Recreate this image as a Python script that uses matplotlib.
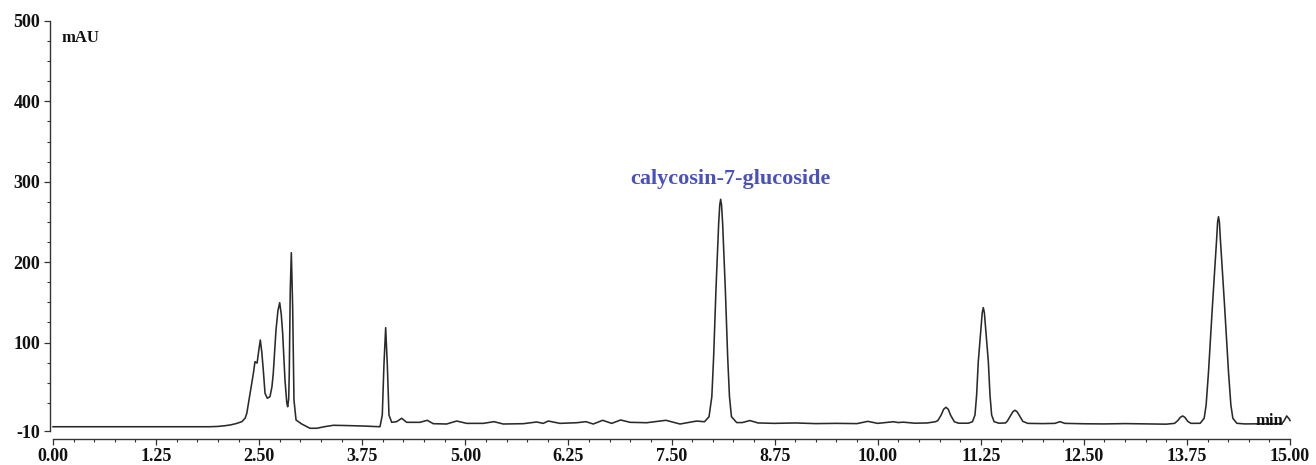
import matplotlib
matplotlib.use("Agg")
import matplotlib.pyplot as plt
from matplotlib.ticker import FixedLocator, MultipleLocator, FormatStrFormatter

# ---- data ----
time_min = [
    0.00, 1.90, 2.00, 2.08, 2.15, 2.22, 2.29, 2.33, 2.35, 2.39, 2.43, 2.449, 2.475, 2.495,
    2.514, 2.532, 2.550, 2.571, 2.599, 2.631, 2.655, 2.671, 2.704, 2.728, 2.749, 2.768,
    2.785, 2.813, 2.835, 2.846, 2.858, 2.865, 2.877, 2.890, 2.906, 2.922, 2.947, 3.016,
    3.116, 3.197, 3.30, 3.40, 3.55, 3.76, 3.965, 3.993, 4.013, 4.034, 4.054, 4.074,
    4.107, 4.167, 4.228, 4.289, 4.45, 4.538, 4.611, 4.773, 4.895, 5.016, 5.218, 5.347,
    5.46, 5.703, 5.865, 5.945, 6.006, 6.147, 6.35, 6.463, 6.551, 6.665, 6.774, 6.884,
    6.996, 7.199, 7.433, 7.603, 7.805, 7.90, 7.955, 7.989, 8.011, 8.039, 8.072, 8.085,
    8.096, 8.107, 8.120, 8.153, 8.181, 8.203, 8.227, 8.29, 8.36, 8.45, 8.55, 8.75,
    9.00, 9.25, 9.50, 9.75, 9.88, 10.00, 10.19, 10.25, 10.31, 10.45, 10.60, 10.70,
    10.73, 10.77, 10.80, 10.828, 10.856, 10.883, 10.93, 10.98, 11.10, 11.15, 11.18, 11.20,
    11.22, 11.253, 11.268, 11.281, 11.294, 11.309, 11.342, 11.362, 11.382, 11.412, 11.47, 11.55,
    11.57, 11.61, 11.64, 11.665, 11.69, 11.72, 11.76, 11.82, 12.00, 12.15, 12.21, 12.27,
    12.50, 12.75, 13.00, 13.25, 13.50, 13.60, 13.64, 13.67, 13.698, 13.725, 13.76, 13.80,
    13.88, 13.911, 13.959, 13.983, 14.012, 14.060, 14.111, 14.122, 14.133, 14.144, 14.155, 14.206,
    14.254, 14.283, 14.307, 14.355, 14.45, 14.70, 14.90, 14.93, 14.96, 14.99, 15.00,
]
absorbance_mau = [
    -4.7, -4.7, -4.3, -3.5, -2.5, -0.8, 1.6, 6.0, 12.0, 36.9, 61.8, 76.2, 74.5, 90.0,
    103.2, 88.0, 65.9, 36.9, 30.7, 32.7, 45.0, 61.8, 115.6, 140.0, 149.6, 135.0,
    111.5, 53.4, 25.0, 20.2, 30.0, 61.8, 165.4, 211.8, 144.6, 28.6, 3.7, -1.3,
    -6.6, -6.6, -4.5, -2.9, -3.2, -3.8, -4.7, 9.9, 72.1, 118.5, 72.1, 9.9,
    0.8, 1.6, 5.8, 0.8, 0.8, 3.3, -0.9, -1.3, 2.4, -0.5, -0.5, 1.6,
    -1.3, -0.9, 1.2, -0.5, 2.4, -0.5, 0.3, 1.6, -1.3, 3.3, -0.5, 3.7,
    0.8, 0.3, 3.3, -1.3, 2.4, 1.5, 7.8, 32.7, 82.4, 165.4, 248.3, 271.0,
    278.2, 271.0, 248.3, 165.4, 82.4, 32.7, 7.8, 0.5, 0.5, 3.0, 0.0, -0.5,
    0.0, -0.8, -0.5, -0.8, 2.0, -0.5, 1.5, 0.5, 1.0, -0.3, 0.0, 1.5,
    3.0, 9.9, 17.0, 19.5, 17.0, 9.9, 1.5, -0.3, -0.3, 1.6, 9.9, 34.8,
    76.2, 117.7, 137.0, 143.4, 137.0, 117.7, 76.2, 34.8, 9.9, 1.6, -0.3, 0.0,
    2.0, 9.0, 14.0, 15.8, 14.0, 9.0, 2.0, -0.5, -0.8, -0.5, 1.6, -0.5,
    -1.0, -1.2, -0.8, -1.2, -1.5, -0.5, 3.0, 7.0, 8.7, 7.0, 2.0, -0.5,
    -0.5, -0.4, 5.8, 22.3, 63.8, 146.7, 229.7, 250.0, 256.5, 250.0, 229.7, 146.7,
    63.8, 22.3, 5.8, -0.4, -1.2, -1.0, -1.0, 3.0, 8.7, 5.0, 3.0,
]

x_major_ticks = [0.00, 1.25, 2.50, 3.75, 5.00, 6.25, 7.50, 8.75, 10.00, 11.25, 12.50, 13.75, 15.00]
y_major_ticks = [-10, 100, 200, 300, 400, 500]
y_minor_ticks = [25, 50, 75, 125, 150, 175, 225, 250, 275, 325, 350, 375, 425, 450, 475]
y_unit = "mAU"
x_unit = "min"
peak_label = "calycosin-7-glucoside"
peak_label_time = 8.21
peak_label_value = 303

# ---- drawing ----
plt.rcParams["font.family"] = ["Liberation Serif", "DejaVu Serif"]
plt.rcParams["font.weight"] = "bold"
plt.rcParams["axes.unicode_minus"] = False

W, H = 1316, 465
fig = plt.figure(figsize=(W / 100, H / 100), dpi=100)
ax = fig.add_axes([53 / W, 34 / H, 1237 / W, 410 / H])

ax.plot(time_min, absorbance_mau, color="#2a2a2a", lw=1.15, clip_on=False, zorder=2)

ax.set_xlim(0, 15)
ax.set_ylim(-10, 500)

for s in ["top", "right"]:
    ax.spines[s].set_visible(False)
ax.spines["left"].set_position(("outward", 2.2))
ax.spines["bottom"].set_position(("outward", 5.8))
for s in ["left", "bottom"]:
    ax.spines[s].set_linewidth(1.0)
    ax.spines[s].set_color("#333333")

ax.xaxis.set_major_locator(FixedLocator(x_major_ticks))
ax.xaxis.set_minor_locator(MultipleLocator(0.25))
ax.xaxis.set_major_formatter(FormatStrFormatter("%.2f"))
ax.yaxis.set_major_locator(FixedLocator(y_major_ticks))
ax.yaxis.set_minor_locator(FixedLocator(y_minor_ticks))

ax.tick_params(axis="both", which="major", direction="out", length=4, width=0.9,
               color="#333333", labelsize=13, labelcolor="#111111")
ax.tick_params(axis="both", which="minor", direction="out", length=2.5, width=0.8,
               color="#333333")
ax.tick_params(axis="y", which="major", pad=3.0)
ax.tick_params(axis="x", which="major", pad=2.5)

ax.text(peak_label_time, peak_label_value, peak_label, color="#4a50c0",
        fontsize=16, fontweight="bold", ha="center", va="center")

fig.text(62 / W, 1 - 37.5 / H, y_unit, fontsize=12, fontweight="bold",
         ha="left", va="center", color="#111111")
fig.text(1256 / W, 1 - 421 / H, x_unit, fontsize=12, fontweight="bold",
         ha="left", va="center", color="#111111", zorder=5)

fig.savefig("out.png", dpi=100, facecolor="white")
